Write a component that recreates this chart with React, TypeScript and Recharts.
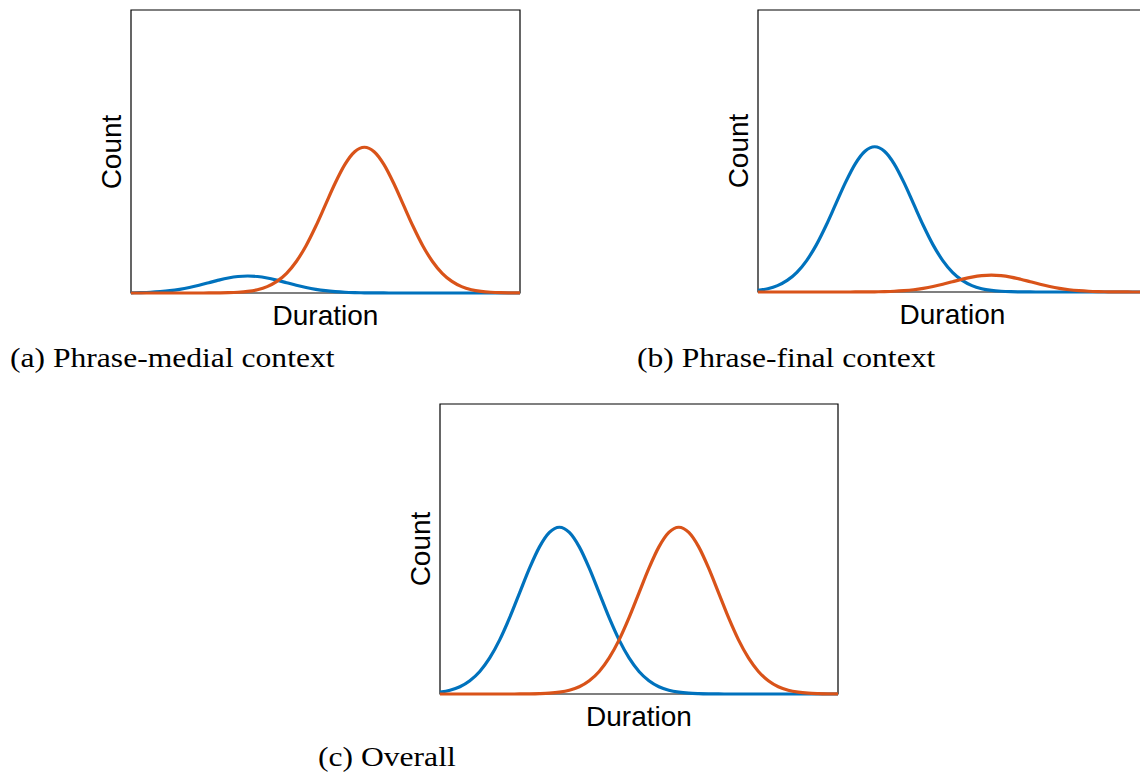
import { LineChart, Line, XAxis, YAxis, ReferenceArea } from "recharts";

// duration grid (arbitrary units, 0..100)
const durations = [
  0, 2.5, 5, 7.5, 10, 12.5, 15, 17.5, 20, 22.5, 25, 27.5, 30, 32.5, 35, 37.5, 40, 42.5, 45, 47.5, 50,
  52.5, 55, 57.5, 60, 62.5, 65, 67.5, 70, 72.5, 75, 77.5, 80, 82.5, 85, 87.5, 90, 92.5, 95, 97.5, 100,
];

// (a) phrase-medial
const medialShort = [
  0.07, 0.14, 0.26, 0.48, 0.81, 1.3, 1.95, 2.75, 3.64, 4.53, 5.3, 5.82, 6, 5.82, 5.3, 4.53, 3.64, 2.75, 1.95, 1.3, 0.81,
  0.48, 0.26, 0.14, 0.07, 0.03, 0.01, 0, 0, 0, 0, 0, 0, 0, 0, 0, 0, 0, 0, 0, 0,
];
const medialLong = [
  0, 0, 0, 0, 0, 0, 0, 0, 0.02, 0.05, 0.11, 0.26, 0.57, 1.17, 2.26, 4.1, 6.97, 11.14, 16.72, 23.58, 31.23,
  38.87, 45.45, 49.91, 51.5, 49.91, 45.45, 38.87, 31.23, 23.58, 16.72, 11.14, 6.97, 4.1, 2.26, 1.17, 0.57, 0.26, 0.11, 0.05, 0.02,
];

// (b) phrase-final
const finalShort = [
  0.57, 1.17, 2.26, 4.1, 6.97, 11.14, 16.72, 23.58, 31.23, 38.87, 45.45, 49.91, 51.5, 49.91, 45.45, 38.87, 31.23, 23.58, 16.72, 11.14, 6.97,
  4.1, 2.26, 1.17, 0.57, 0.26, 0.11, 0.05, 0.02, 0, 0, 0, 0, 0, 0, 0, 0, 0, 0, 0, 0,
];
const finalLong = [
  0, 0, 0, 0, 0, 0, 0, 0, 0, 0, 0.01, 0.03, 0.07, 0.14, 0.26, 0.48, 0.81, 1.3, 1.95, 2.75, 3.64,
  4.53, 5.3, 5.82, 6, 5.82, 5.3, 4.53, 3.64, 2.75, 1.95, 1.3, 0.81, 0.48, 0.26, 0.14, 0.07, 0.03, 0.01, 0, 0,
];

// (c) overall
const overallShort = [
  0.64, 1.31, 2.52, 4.58, 7.78, 12.44, 18.67, 26.32, 34.87, 43.4, 50.74, 55.73, 57.5, 55.73, 50.74, 43.4, 34.87, 26.32, 18.67, 12.44, 7.78,
  4.58, 2.52, 1.31, 0.64, 0.29, 0.13, 0.05, 0.02, 0, 0, 0, 0, 0, 0, 0, 0, 0, 0, 0, 0,
];
const overallLong = [
  0, 0, 0, 0, 0, 0, 0, 0, 0.02, 0.05, 0.13, 0.29, 0.64, 1.31, 2.52, 4.58, 7.78, 12.44, 18.67, 26.32, 34.87,
  43.4, 50.74, 55.73, 57.5, 55.73, 50.74, 43.4, 34.87, 26.32, 18.67, 12.44, 7.78, 4.58, 2.52, 1.31, 0.64, 0.29, 0.13, 0.05, 0.02,
];

const BLUE = "#0072BD";
const ORANGE = "#D95319";
const PAD = 6;
const sans = "'Liberation Sans', Arial, sans-serif";
const serif = "'Liberation Serif', 'DejaVu Serif', serif";

const toRows = (a: number[], b: number[]) =>
  durations.map((d, i) => ({ d, blue: a[i], orange: b[i] }));

interface PanelProps {
  left: number;
  top: number;
  width: number;
  height: number;
  blue: number[];
  orange: number[];
}

const Panel = ({ left, top, width, height, blue, orange }: PanelProps) => {
  const data = toRows(blue, orange);
  return (
    <>
      <div style={{ position: "absolute", left: left - PAD, top: top - PAD }}>
        <LineChart
          width={width + PAD * 2}
          height={height + PAD * 2}
          data={data}
          margin={{ top: PAD, right: PAD, bottom: PAD, left: PAD }}
        >
          <XAxis dataKey="d" type="number" domain={[0, 100]} hide />
          <YAxis type="number" domain={[0, 100]} hide />
          <ReferenceArea x1={0} x2={100} y1={0} y2={100} fill="none" stroke="#000" strokeWidth={1.2} />
          <Line type="monotone" dataKey="blue" stroke={BLUE} strokeWidth={3.2} dot={false} isAnimationActive={false} />
          <Line type="monotone" dataKey="orange" stroke={ORANGE} strokeWidth={3.2} dot={false} isAnimationActive={false} />
        </LineChart>
      </div>
      <div
        style={{
          position: "absolute",
          left,
          width,
          top: top + height + 8,
          textAlign: "center",
          fontFamily: sans,
          fontSize: 28,
          lineHeight: "30px",
          color: "#000",
        }}
      >
        Duration
      </div>
      <div
        style={{
          position: "absolute",
          left: left - 19,
          top: top + height / 2,
          width: 0,
          height: 0,
        }}
      >
        <div
          style={{
            position: "absolute",
            transform: "translate(-50%, -50%) rotate(-90deg)",
            fontFamily: sans,
            fontSize: 28,
            lineHeight: "30px",
            whiteSpace: "nowrap",
            color: "#000",
          }}
        >
          Count
        </div>
      </div>
    </>
  );
};

const Caption = ({ left, top, text }: { left: number; top: number; text: string }) => (
  <div
    style={{
      position: "absolute",
      left,
      top,
      fontFamily: serif,
      fontSize: 27,
      lineHeight: "30px",
      whiteSpace: "nowrap",
      color: "#000",
      transform: "scaleX(1.17)",
      transformOrigin: "left center",
    }}
  >
    {text}
  </div>
);

export default function App() {
  return (
    <div
      style={{
        position: "absolute",
        left: 0,
        top: 0,
        width: 1140,
        height: 773,
        overflow: "hidden",
        background: "#fff",
      }}
    >
      <Panel left={131} top={10} width={389} height={283} blue={medialShort} orange={medialLong} />
      <Panel left={758} top={10} width={389} height={282} blue={finalShort} orange={finalLong} />
      <Panel left={440} top={404} width={398} height={290} blue={overallShort} orange={overallLong} />
      <Caption left={10} top={343} text="(a) Phrase-medial context" />
      <Caption left={637} top={343} text="(b) Phrase-final context" />
      <Caption left={318} top={742} text="(c) Overall" />
    </div>
  );
}
